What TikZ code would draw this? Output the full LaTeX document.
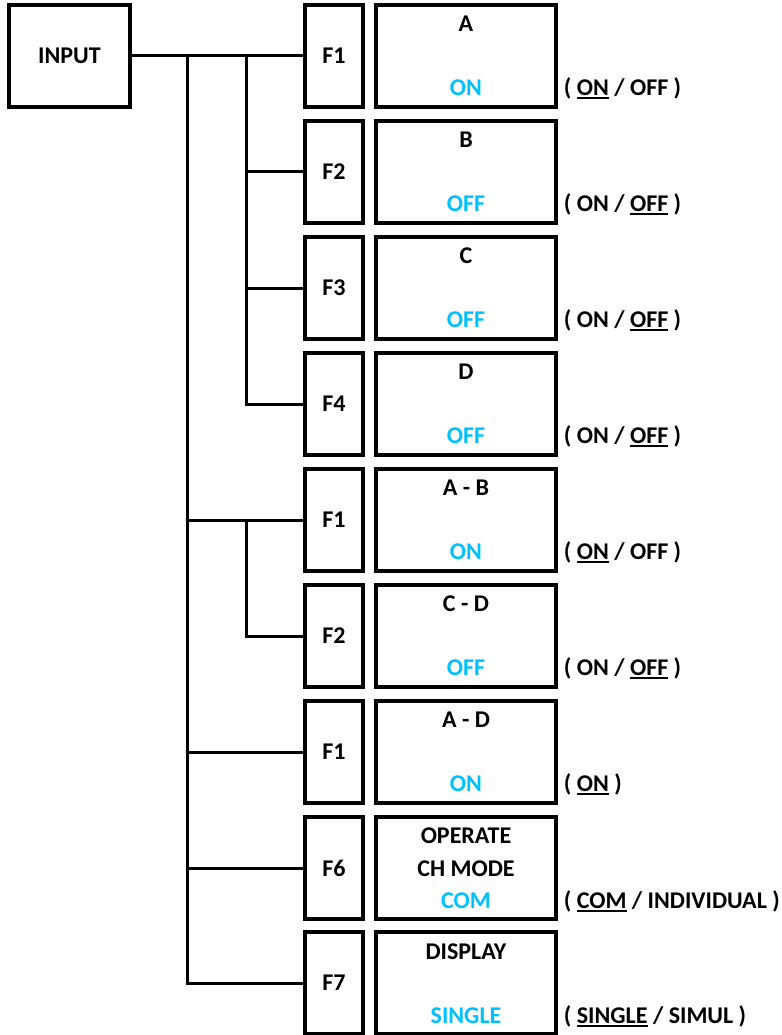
\documentclass[tikz,border=0pt]{standalone}
\usepackage{fontspec}
\setmainfont{Carlito}
\usetikzlibrary{calc}
\definecolor{val}{HTML}{00C0FF}
\newcommand\ulx[1]{\setbox0\hbox{#1}\rlap{\rule[-3.4pt]{\wd0}{1.7pt}}\box0\relax}
\begin{document}
\begin{tikzpicture}[x=1pt,y=-1pt,
  every node/.style={font=\fontsize{24}{29}\selectfont\bfseries},
  boxst/.style={draw,line width=3.5pt,inner sep=0pt},
  inbox/.style={boxst,minimum width=121pt,minimum height=102pt},
  fbox/.style={boxst,minimum width=58pt,minimum height=102pt},
  dbox/.style={boxst,minimum width=180pt,minimum height=102pt},
  txt/.style={anchor=base,inner sep=0pt},
  valt/.style={txt,text=val},
  opt/.style={anchor=base west,inner sep=0pt},
  conn/.style={line width=3pt}]
\useasboundingbox (0,0) rectangle (781,1035);
% input
\node[inbox] (in) at (69.5,56) {INPUT};
% F boxes
\node[fbox] (f1) at (334,56) {F1};
\node[fbox] (f2) at (334,172) {F2};
\node[fbox] (f3) at (334,288) {F3};
\node[fbox] (f4) at (334,404) {F4};
\node[fbox] (f5) at (334,520) {F1};
\node[fbox] (f6) at (334,636) {F2};
\node[fbox] (f7) at (334,752) {F1};
\node[fbox] (f8) at (334,868) {F6};
\node[fbox] (f9) at (334,983) {F7};
% display boxes
\node[dbox] (d1) at (466,56) {};
\node[dbox] (d2) at (466,172) {};
\node[dbox] (d3) at (466,288) {};
\node[dbox] (d4) at (466,404) {};
\node[dbox] (d5) at (466,520) {};
\node[dbox] (d6) at (466,636) {};
\node[dbox] (d7) at (466,752) {};
\node[dbox] (d8) at (466,868) {};
\node[dbox] (d9) at (466,983) {};
% headings
\node[txt] (h1) at ($(d1.north)+(0,28)$) {A};
\node[txt] (h2) at ($(d2.north)+(0,28)$) {B};
\node[txt] (h3) at ($(d3.north)+(0,28)$) {C};
\node[txt] (h4) at ($(d4.north)+(0,28)$) {D};
\node[txt] (h5) at ($(d5.north)+(0,28)$) {A - B};
\node[txt] (h6) at ($(d6.north)+(0,28)$) {C - D};
\node[txt] (h7) at ($(d7.north)+(0,28)$) {A - D};
\node[txt] (h8) at ($(d8.north)+(0,28)$) {OPERATE};
\node[txt] (h8b) at ($(d8.north)+(0,61)$) {CH MODE};
\node[txt] (h9) at ($(d9.north)+(0,29)$) {DISPLAY};
% values
\node[valt] (v1) at ($(d1.north)+(0,92)$) {ON};
\node[valt] (v2) at ($(d2.north)+(0,92)$) {OFF};
\node[valt] (v3) at ($(d3.north)+(0,92)$) {OFF};
\node[valt] (v4) at ($(d4.north)+(0,92)$) {OFF};
\node[valt] (v5) at ($(d5.north)+(0,92)$) {ON};
\node[valt] (v6) at ($(d6.north)+(0,92)$) {OFF};
\node[valt] (v7) at ($(d7.north)+(0,92)$) {ON};
\node[valt] (v8) at ($(d8.north)+(0,93)$) {COM};
\node[valt] (v9) at ($(d9.north)+(0,93)$) {SINGLE};
% options
\node[opt] (o1) at ($(d1.east |- v1.base)+(6,0)$) {( \ulx{ON} / OFF )};
\node[opt] (o2) at ($(d2.east |- v2.base)+(6,0)$) {( ON / \ulx{OFF} )};
\node[opt] (o3) at ($(d3.east |- v3.base)+(6,0)$) {( ON / \ulx{OFF} )};
\node[opt] (o4) at ($(d4.east |- v4.base)+(6,0)$) {( ON / \ulx{OFF} )};
\node[opt] (o5) at ($(d5.east |- v5.base)+(6,0)$) {( \ulx{ON} / OFF )};
\node[opt] (o6) at ($(d6.east |- v6.base)+(6,0)$) {( ON / \ulx{OFF} )};
\node[opt] (o7) at ($(d7.east |- v7.base)+(6,0)$) {( \ulx{ON} )};
\node[opt] (o8) at ($(d8.east |- v8.base)+(6,0)$) {( \ulx{COM} / INDIVIDUAL )};
\node[opt] (o9) at ($(d9.east |- v9.base)+(6,0)$) {( \ulx{SINGLE} / SIMUL )};
% connectors
\coordinate (ja) at (187,56);
\coordinate (jb) at (246,56);
\coordinate (jc) at (246,520);
\draw[conn] (in.east) -- (f1.west);
\draw[conn] (jb) |- (f4.west);
\draw[conn] (jb |- f2.west) -- (f2.west);
\draw[conn] (jb |- f3.west) -- (f3.west);
\draw[conn] (ja) |- (f9.west);
\draw[conn] (ja |- f5.west) -- (f5.west);
\draw[conn] (jc) |- (f6.west);
\draw[conn] (ja |- f7.west) -- (f7.west);
\draw[conn] (ja |- f8.west) -- (f8.west);
\end{tikzpicture}
\end{document}
